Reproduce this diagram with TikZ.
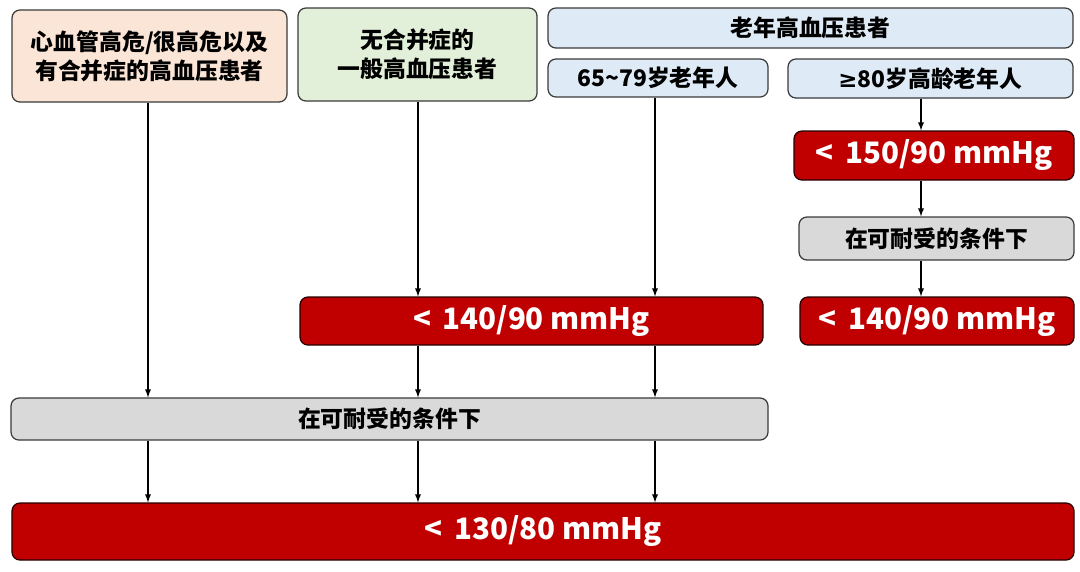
\documentclass[tikz,border=0pt]{standalone}
\usepackage{fontspec}
\setmainfont{Noto Sans CJK SC}
\newfontfamily\symfont{DejaVu Sans}
\usetikzlibrary{arrows}
\definecolor{peach}{HTML}{FBE5D6}
\definecolor{mint}{HTML}{E2F0D9}
\definecolor{sky}{HTML}{DEEBF7}
\definecolor{lightgray}{HTML}{D9D9D9}
\definecolor{darkred}{HTML}{C00000}
\definecolor{edge}{HTML}{3A3A3A}
\tikzset{
  box/.style={draw=edge, line width=0.7pt, rounded corners=4.5pt, inner sep=0pt,
    align=center, font=\bfseries\fontsize{13}{16.5}\selectfont},
  goal/.style={box, fill=darkred, draw=black!80!darkred, text=white,
    font=\bfseries\fontsize{16.8}{20}\selectfont},
  cond/.style={box, fill=lightgray},
  arr/.style={-latex, line width=0.6pt}
}
\begin{document}
\begin{tikzpicture}
	\useasboundingbox (0,0) rectangle (21.6,-11.42);
	% patient groups
	\node[box, fill=peach, minimum width=5.5cm, minimum height=1.84cm] (high) at (2.99,-1.12) {心血管高危/很高危以及\\有合并症的高血压患者};
	\node[box, fill=mint, minimum width=4.78cm, minimum height=1.86cm] (plain) at (8.35,-1.09) {无合并症的\\一般高血压患者};
	\node[box, fill=sky, minimum width=10.5cm, minimum height=0.8cm] (elder) at (16.21,-0.56) {老年高血压患者};
	\node[box, fill=sky, minimum width=4.4cm, minimum height=0.76cm] (young) at (13.16,-1.56) {65\textasciitilde79岁老年人};
	\node[box, fill=sky, minimum width=5.7cm, minimum height=0.78cm] (old) at (18.61,-1.57) {{\symfont ≥}80岁高龄老年人};
	% targets
	\node[goal, minimum width=5.6cm, minimum height=0.98cm] (t150) at (18.68,-3.11) {<\, 150/90 mmHg};
	\node[cond, minimum width=5.5cm, minimum height=0.86cm] (tolR) at (18.73,-4.77) {在可耐受的条件下};
	\node[goal, minimum width=5.48cm, minimum height=0.96cm] (t140R) at (18.74,-6.42) {<\, 140/90 mmHg};
	\node[goal, minimum width=9.26cm, minimum height=0.96cm] (t140L) at (10.63,-6.42) {<\, 140/90 mmHg};
	\node[cond, minimum width=15.14cm, minimum height=0.84cm] (tolL) at (7.79,-8.38) {在可耐受的条件下};
	\node[goal, minimum width=21.24cm, minimum height=1.14cm] (t130) at (10.86,-10.63) {<\, 130/80 mmHg};
	% arrow columns
	\coordinate (colA) at (2.96,0);
	\coordinate (colB) at (8.36,0);
	\coordinate (colC) at (13.10,0);
	\coordinate (colD) at (18.42,0);
	\draw[arr] (high.south -| colA) -- (tolL.north -| colA);
	\draw[arr] (plain.south -| colB) -- (t140L.north -| colB);
	\draw[arr] (young.south -| colC) -- (t140L.north -| colC);
	\draw[arr] (t140L.south -| colB) -- (tolL.north -| colB);
	\draw[arr] (t140L.south -| colC) -- (tolL.north -| colC);
	\draw[arr] (tolL.south -| colA) -- (t130.north -| colA);
	\draw[arr] (tolL.south -| colB) -- (t130.north -| colB);
	\draw[arr] (tolL.south -| colC) -- (t130.north -| colC);
	\draw[arr] (old.south -| colD) -- (t150.north -| colD);
	\draw[arr] (t150.south -| colD) -- (tolR.north -| colD);
	\draw[arr] (tolR.south -| colD) -- (t140R.north -| colD);
\end{tikzpicture}
\end{document}
